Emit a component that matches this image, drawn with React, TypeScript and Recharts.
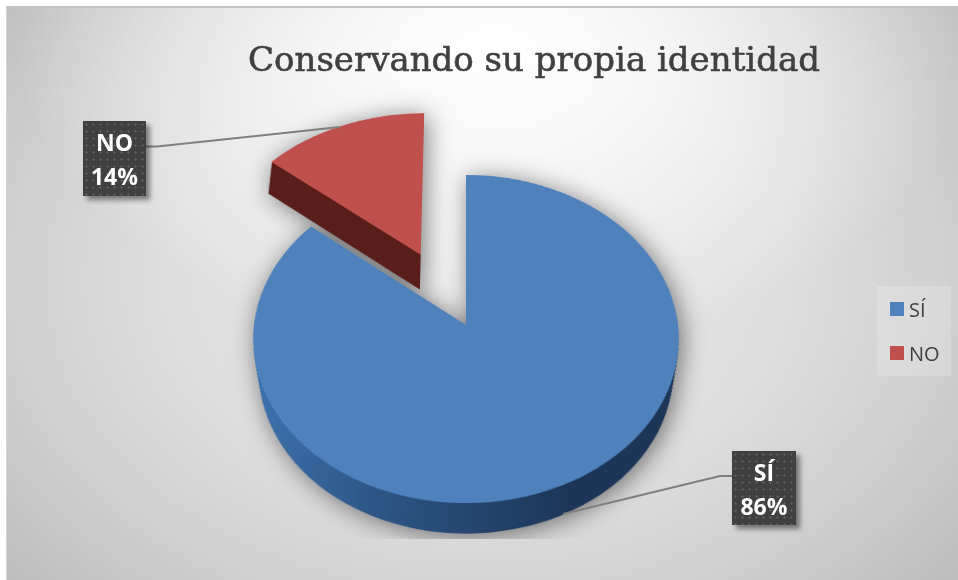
import { PieChart, Pie, Cell, Legend } from 'recharts';

const categories = ['SÍ', 'NO'];
const values = [86, 14];
const topColors = ['#4f81bd', '#c0504d'];
const sideColors = ['url(#blueWall)', '#5a1f1b'];
const title = 'Conservando su propia identidad';

const rows = categories.map((name, i) => ({ name, value: values[i] }));

const WIDTH = 958;
const HEIGHT = 580;

// pie plane, tilted with a CSS perspective so text stays out of it
const APEX_X = 466;
const APEX_Y = 325;
const RADIUS = 212;
const RED_RADIUS = 215;
const EXPLODE_X = 47;
const EXPLODE_Y = 95;
const BLUE_WALL = [42, 40, 38, 36, 34, 32, 30, 28, 26, 24, 22, 20, 18, 16, 14, 12, 10, 8, 6, 4, 2];
const RED_WALL = [48, 46, 44, 42, 40, 38, 36, 34, 32, 30, 28, 26, 24, 22, 20, 18, 16, 14, 12, 10, 8, 6, 4, 2];

function sliceLayer(
  key: string,
  cx: number,
  cy: number,
  radius: number,
  shown: number,
  colors: string[]
) {
  return (
    <Pie
      key={key}
      data={rows}
      dataKey="value"
      nameKey="name"
      cx={cx}
      cy={cy}
      innerRadius={0}
      outerRadius={radius}
      startAngle={90}
      endAngle={-270}
      stroke="none"
      legendType="none"
      isAnimationActive={false}
    >
      {rows.map((r, i) => (
        <Cell key={r.name} fill={i === shown ? colors[i] : 'transparent'} stroke="none" />
      ))}
    </Pie>
  );
}

function DataBox({ index, left, top, w, h }: { index: number; left: number; top: number; w: number; h: number }) {
  return (
    <div
      style={{
        position: 'absolute',
        left,
        top,
        width: w,
        height: h,
        boxSizing: 'border-box',
        paddingTop: 5,
        background: '#404040',
        backgroundImage: 'radial-gradient(#5e5e5e 0.9px, transparent 1.3px)',
        backgroundSize: '7px 7px',
        boxShadow: '4px 4px 5px rgba(0,0,0,0.45)',
        color: '#fff',
        fontFamily: '"Open Sans", sans-serif',
        fontWeight: 700,
        fontSize: 23,
        lineHeight: '33.5px',
        textAlign: 'center',
      }}
    >
      {categories[index]}
      <br />
      {values[index]}%
    </div>
  );
}

function LegendBox() {
  return (
    <div
      style={{
        width: 74,
        height: 90,
        background: 'rgba(255,255,255,0.2)',
        fontFamily: '"Open Sans", sans-serif',
        fontSize: 20,
        color: '#404040',
      }}
    >
      {categories.map((c, i) => (
        <div key={c} style={{ height: 44, display: 'flex', alignItems: 'center', paddingLeft: 13, paddingTop: i === 0 ? 1 : 0 }}>
          <span style={{ width: 14, height: 14, background: topColors[i], marginRight: 5 }} />
          {c}
        </div>
      ))}
    </div>
  );
}

export default function App() {
  return (
    <div style={{ position: 'absolute', left: 0, top: 0, width: WIDTH, height: HEIGHT, background: '#fff', overflow: 'hidden' }}>
      {/* chart area */}
      <div
        style={{
          position: 'absolute',
          left: 6,
          top: 6,
          width: 952,
          height: 574,
          borderTop: '2px solid #c4c4c4',
          borderLeft: '1px solid #d4d4d4',
          boxSizing: 'border-box',
          background:
            'radial-gradient(ellipse 480px 300px at 490px 40px, rgba(255,255,255,1) 0%, rgba(255,255,255,0.75) 35%, rgba(255,255,255,0) 100%), ' +
            'radial-gradient(ellipse 620px 450px at 470px 270px, #ececec 0%, #dedede 50%, #d0d0d0 75%, #bebebe 100%)',
        }}
      />

      {/* tilted pie */}
      <div style={{ position: 'absolute', left: 0, top: 0, width: WIDTH, height: HEIGHT, clipPath: 'inset(0 0 41px 0)' }}>
        <div style={{ width: WIDTH, height: HEIGHT, filter: 'drop-shadow(3px 3px 12px rgba(0,0,0,0.5))' }}>
          <div
            style={{
              width: WIDTH,
              height: HEIGHT,
              transformOrigin: `${APEX_X}px ${APEX_Y}px`,
              transform: 'perspective(1589px) rotateX(39.8deg)',
            }}
          >
            <PieChart width={WIDTH} height={HEIGHT} margin={{ top: 0, right: 0, bottom: 0, left: 0 }}>
              <defs>
                <linearGradient id="blueWall" gradientUnits="userSpaceOnUse" x1="253" y1="0" x2="560" y2="0">
                  <stop offset="0%" stopColor="#3f74b0" />
                  <stop offset="45%" stopColor="#2c5484" />
                  <stop offset="100%" stopColor="#1d3658" />
                </linearGradient>
              </defs>
              {BLUE_WALL.map((d) =>
                sliceLayer(`blue-${d}`, APEX_X, APEX_Y + d, RADIUS - d * 0.22, 0, sideColors)
              )}
              {sliceLayer('blue-top', APEX_X, APEX_Y, RADIUS, 0, topColors)}
              {RED_WALL.map((d) =>
                sliceLayer(`red-${d}`, APEX_X - EXPLODE_X, APEX_Y - EXPLODE_Y + d, RED_RADIUS, 1, sideColors)
              )}
              {sliceLayer('red-top', APEX_X - EXPLODE_X, APEX_Y - EXPLODE_Y, RED_RADIUS, 1, topColors)}
            </PieChart>
          </div>
        </div>
      </div>

      {/* title, legend and leader lines sit flat on top */}
      <div style={{ position: 'absolute', left: 0, top: 0 }}>
        <PieChart width={WIDTH} height={HEIGHT} margin={{ top: 0, right: 0, bottom: 0, left: 0 }}>
          <text
            x={534}
            y={71}
            textAnchor="middle"
            fontFamily='"DejaVu Serif", serif'
            fontSize={34}
            fill="#404040"
            stroke="#404040"
            strokeWidth={0.6}
          >
            {title}
          </text>
          <polyline points="146,146.5 157,146.5 340,127" fill="none" stroke="#7f7f7f" strokeWidth={2} />
          <polyline points="732,476 720,476 563,514" fill="none" stroke="#7f7f7f" strokeWidth={2} />
          <Pie data={rows} dataKey="value" cx={0} cy={0} outerRadius={0} isAnimationActive={false} />
          <Legend
            layout="vertical"
            content={<LegendBox />}
            wrapperStyle={{ position: 'absolute', left: 877, top: 286, width: 74, height: 90 }}
          />
        </PieChart>
      </div>

      <DataBox index={1} left={83} top={121} w={63} h={75} />
      <DataBox index={0} left={732} top={451} w={64} h={74} />
    </div>
  );
}
